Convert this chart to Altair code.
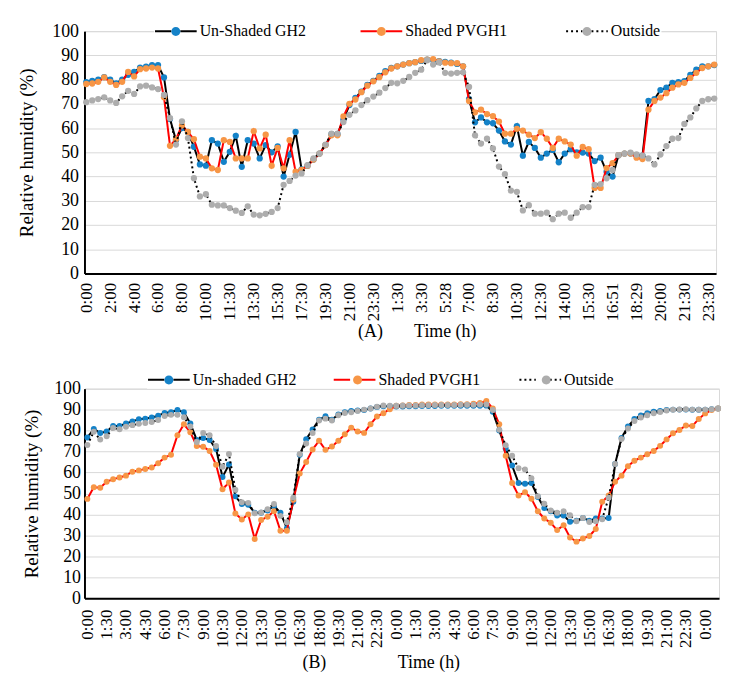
import json
import pandas as pd
import altair as alt

FONT = "Liberation Serif"
BLUE = "#1482C8"
ORANGE = "#F79646"
GRAY = "#ADADAD"

# ---------------- Panel A ----------------
A_TICKS = ["0:00", "2:00", "4:00", "6:00", "8:00", "10:00", "11:30", "13:30", "15:30",
           "17:30", "19:30", "21:00", "23:30", "1:30", "3:30", "5:28", "7:00", "8:30",
           "10:30", "12:30", "14:00", "15:30", "16:51", "18:29", "20:00", "21:30", "23:30"]
A_NAMES = ["Un-Shaded GH2", "Shaded PVGH1", "Outside"]
A_GH2 = [79, 79.5, 80, 81, 80, 78.5, 80, 82, 83.2, 85,
         85.4, 86, 86, 80.9, 63.8, 55, 60, 58.4, 52.3, 45,
         44.5, 55, 53.6, 46.1, 50.2, 56.8, 44, 55, 53.6, 47.5,
         53, 50, 52.5, 40, 49, 58.4, 43, 44.5, 47, 49.5,
         53, 57.5, 57.5, 63.5, 69.5, 72.5, 75, 77.8, 79.5, 81.5,
         83.5, 84.8, 85.5, 86.2, 86.8, 87.2, 87.7, 88.2, 88, 87.6,
         87.3, 87, 86.5, 85.5, 72, 62.4, 64.4, 62.4, 62, 59,
         54.5, 53.2, 60.8, 48.6, 54.3, 51.8, 47.8, 49.5, 51, 45.9,
         49.5, 51.3, 50, 49.9, 49.5, 46.4, 47.8, 42, 40, 48.8,
         49.5, 49.5, 48.8, 48.6, 71.2, 71.9, 75.7, 76.7, 78.7, 79,
         79.4, 82, 84.1, 85.5, 85.5, 86]
A_PVGH1 = [78.2, 78.4, 79.1, 80.9, 79.1, 77.8, 79.1, 83.2, 81.3, 84.3,
           84.6, 85, 84.6, 72.7, 52.7, 55.4, 61.1, 58.4, 55.4, 48.2,
           47.5, 43.4, 42.7, 55, 54.3, 47.5, 47.5, 47.5, 58.7, 51.6,
           57.3, 44.5, 51.8, 43.4, 55, 42, 42.7, 44.5, 47, 49.5,
           53, 57, 57, 64.8, 70, 71.8, 74.8, 77.5, 79.3, 81,
           83, 84.6, 85.5, 86.2, 86.8, 87.2, 88, 88.2, 88.5, 87.5,
           87, 86.8, 86.8, 85.5, 71.2, 66.5, 67.6, 65.8, 64.9, 62.7,
           57.7, 57.7, 59.7, 59, 57.3, 55.9, 58.3, 55.6, 51.8, 55.6,
           54.5, 53.2, 48.6, 52.2, 51.3, 35.3, 35.3, 43.5, 45.5, 48.8,
           49.5, 49.5, 47.8, 47.2, 67.6, 71.2, 72.6, 74.4, 76.7, 78,
           78.7, 80.7, 82.8, 84.8, 85.5, 86.2]
A_OUT = [70.7, 71.4, 72, 72.7, 71.4, 70.4, 73.1, 75.4, 74.1, 77.2,
         77.5, 76.8, 76.1, 73.7, 64.1, 53.2, 62.8, 55.9, 39.3, 31.8,
         32.7, 28.4, 28.1, 28.1, 27, 25.9, 25, 27.7, 24.3, 24,
         24.6, 25.4, 27, 36.6, 38.2, 40.4, 41.3, 44.7, 47.5, 49.5,
         53.2, 57.7, 57.7, 62.5, 65.5, 67.3, 69.5, 71.5, 73, 74.6,
         76.5, 78.7, 78.5, 79.5, 81.1, 82.8, 84.1, 88, 86.2, 87.1,
         82.8, 82.5, 82.8, 83, 77, 57, 53.6, 55.6, 51.6, 44.1,
         41, 34.2, 33.7, 26, 28.2, 24.7, 24.7, 25.1, 22.4, 24.7,
         25.1, 23, 25.1, 27.4, 27.4, 36.6, 36.9, 39.3, 42.7, 48.8,
         49.5, 49.9, 49.1, 48.6, 47.5, 45, 49.1, 52.6, 55.6, 55.9,
         61.7, 64.4, 68.1, 71.2, 71.9, 72.2]

# ---------------- Panel B ----------------
B_TICKS = ["0:00", "1:30", "3:00", "4:30", "6:00", "7:30", "9:00", "10:30", "12:00",
           "13:30", "15:00", "16:30", "18:00", "19:30", "21:00", "22:30",
           "0:00", "1:30", "3:00", "4:30", "6:00", "7:30", "9:00", "10:30", "12:00",
           "13:30", "15:00", "16:30", "18:00", "19:30", "21:00", "22:30", "0:00"]
B_NAMES = ["Un-shaded GH2", "Shaded PVGH1", "Outside"]
B_GH2 = [76.7, 80.8, 78.8, 79.6, 82.2, 82.2, 83.4, 84.4, 85.4, 85.7,
         86.2, 87.1, 88.4, 88.8, 89.8, 88.7, 83.4, 75.5, 76.5, 75.5,
         71.2, 57.8, 63.8, 48.6, 45, 44.6, 40.8, 40.8, 41.9, 44,
         40.8, 33.4, 46, 68.5, 75.9, 80.5, 85.2, 86.8, 85.2, 87.7,
         88.7, 89.4, 89.6, 89.8, 90.5, 91.3, 91.6, 91.6, 91.5, 91.5,
         91.6, 91.6, 91.7, 91.7, 91.7, 91.8, 91.8, 91.8, 91.8, 91.8,
         91.8, 91.8, 91.9, 89, 80, 71.5, 63.3, 55, 54.6, 55,
         48.3, 43, 41.5, 39.5, 39.5, 36.5, 37, 38.3, 37, 38,
         38, 38.3, 64, 76.5, 82, 85.5, 87.2, 88.3, 89, 89.4,
         89.8, 90, 90, 90, 89.9, 89.9, 90, 90.2, 90.5]
B_PVGH1 = [47.4, 53, 52.7, 55.6, 56.8, 57.6, 58.5, 60.4, 61, 61.7,
           62.4, 64.4, 67.1, 68.5, 77.8, 83, 79.2, 72.6, 72.3, 70.3,
           63.7, 52, 55.2, 40.4, 37.6, 40, 28.3, 37.3, 38.9, 41.5,
           32.2, 32.2, 47, 59.5, 65, 71, 75.1, 70.8, 72.4, 75.1,
           78.2, 81.4, 79.6, 78.9, 83, 86.7, 88.3, 90.2, 91.8, 92,
           92.2, 92.2, 92.4, 92.4, 92.4, 92.5, 92.5, 92.5, 92.6, 92.6,
           92.8, 93.2, 94.1, 90.5, 83, 68, 55, 49, 50.6, 47.5,
           41.5, 38, 36, 32.5, 34.8, 29, 27, 28.5, 29.7, 33,
           46, 49, 55.6, 58.5, 63, 65.6, 67.1, 68.7, 70.3, 72.7,
           75.8, 78.7, 80.3, 82.4, 82.2, 85.5, 88.2, 89.8, 90.5]
B_OUT = [73.1, 79.4, 75.7, 77.3, 81.2, 80.6, 81.8, 82.6, 83.2, 83.6,
         84.1, 85, 87, 87.5, 87.5, 86.4, 82, 74.5, 78.8, 77.8,
         72.6, 62.7, 68.8, 51.8, 45.8, 45.5, 40.5, 40.9, 42.5, 45,
         39.3, 36.2, 48, 68.8, 73.8, 78.8, 84.8, 85.7, 84.8, 87.3,
         88.4, 88.7, 89.4, 90, 90.5, 91.4, 92, 91.8, 91.8, 92,
         92, 92, 92.1, 92.1, 92.2, 92.2, 92.2, 92.2, 92.3, 92.3,
         92.3, 92.4, 92.4, 89.8, 80.4, 73, 68, 62, 61.4, 57.3,
         48.7, 45.1, 41.9, 40.8, 41.5, 39.6, 36.7, 38.3, 36.4, 36.7,
         37.7, 48, 64, 76, 81, 84.6, 86.2, 87.3, 88.3, 88.9,
         89.6, 89.9, 90.1, 90.2, 90, 89.9, 90, 90.2, 90.5]

# legend glyphs (symbolSize 324 -> one path unit = 9 px, symbol centre at 10 px):
# a 42 px line with a gap in the middle, and a 9 px marker at the gap
LINE_PATH = "M-1.111,0H0.722M1.722,0H3.556"
DOT_PATH = "M1.722,0A0.5,0.5,0,1,1,0.722,0A0.5,0.5,0,1,1,1.722,0Z"


def panel(names, series, ticks, step, width, height, xdom, legend_x, legend_y,
          col_pad, dot_pad, xtitle, xtitle_x, xlabel_pad, xtitle_pad, ylabel_pad, ytitle_pad, msize):
    rows = []
    for name, vals in zip(names, series):
        for i, v in enumerate(vals):
            rows.append({"idx": i, "rh": v, "series": name})
    df = pd.DataFrame(rows)
    label_expr = json.dumps(ticks) + "[round(datum.value / %d)]" % step
    x = alt.X("idx:Q",
              scale=alt.Scale(domain=xdom, nice=False, zero=False),
              axis=alt.Axis(values=list(range(0, step * len(ticks), step)), labelExpr=label_expr,
                            labelAngle=-90, labelPadding=xlabel_pad, grid=False, ticks=False,
                            labelFont=FONT, labelFontSize=17, labelColor="black",
                            title=xtitle, titleAlign="left", titleX=xtitle_x,
                            titleFont=FONT, titleFontWeight="normal", titleColor="black",
                            titlePadding=xtitle_pad, titleFontSize=18, labelOverlap=False,
                            domainColor="black", domainWidth=2))
    y = alt.Y("rh:Q",
              scale=alt.Scale(domain=[0, 100], nice=False),
              axis=alt.Axis(values=list(range(0, 101, 10)), title="Relative humidity (%)",
                            labelFont=FONT, labelFontSize=18, labelColor="black",
                            titleFont=FONT, titleFontWeight="normal", titleColor="black",
                            grid=True, gridColor="#D9D9D9", gridWidth=1, ticks=False,
                            labelPadding=ylabel_pad, titlePadding=ytitle_pad, titleFontSize=19,
                            domainColor="black", domainWidth=2))
    common = dict(title=None, orient="none", legendX=legend_x, legendY=legend_y,
                  direction="horizontal", symbolSize=324, symbolStrokeWidth=2,
                  labelFont=FONT, labelFontSize=16, labelColor="black", labelOffset=25,
                  labelLimit=0, padding=1, values=names, gridAlign="all")
    line_legend = alt.Legend(symbolType=LINE_PATH, fillColor="white", zindex=1,
                             columnPadding=col_pad, **common)
    dot_legend = alt.Legend(symbolType=DOT_PATH, symbolStrokeColor="transparent",
                            symbolOpacity=1, labelExpr="''", zindex=2,
                            columnPadding=dot_pad, **common)
    stroke = alt.Stroke("series:N", scale=alt.Scale(domain=names, range=["#000000", "#FF0000", "#000000"]),
                        legend=line_legend)
    dash = alt.StrokeDash("series:N", scale=alt.Scale(domain=names, range=[[1, 0], [1, 0], [2, 3]]),
                          legend=line_legend)
    # an unused extra domain entry keeps the marker legend separate from the line legend
    fill = alt.Fill("series:N", scale=alt.Scale(domain=names + ["-"], range=[BLUE, ORANGE, GRAY, "#FFFFFF"]),
                    legend=dot_legend)
    layers = []
    for name in names:
        base = alt.Chart(df).transform_filter(alt.datum.series == name)
        layers.append(base.mark_line(strokeWidth=2).encode(x=x, y=y, stroke=stroke, strokeDash=dash))
        layers.append(base.mark_circle(size=msize, opacity=1, strokeWidth=0).encode(x=x, y=y, fill=fill))
    return alt.layer(*layers).properties(width=width, height=height)


NB = "\u00a0"
chart_a = panel(A_NAMES, [A_GH2, A_PVGH1, A_OUT], A_TICKS, 4, 636, 244, [-0.3, 105.3],
                70, -11, 50, 162, "(A)" + NB * 7 + "Time (h)", 275, 9, 2, 6, 15, 40)
chart_b = panel(B_NAMES, [B_GH2, B_PVGH1, B_OUT], B_TICKS, 3, 639, 211, [-0.45, 98.15],
                63, -20, 33, 145, "(B)" + NB * 16 + "Time (h)", 219, 11, 6, 4, 12, 36)

chart = alt.concat(chart_a, chart_b, columns=1, spacing=26, align="none").resolve_scale(
    stroke="independent", strokeDash="independent", fill="independent"
).properties(
    padding={"left": 9, "top": 9, "right": 0, "bottom": 0}
).configure_view(
    stroke="#D9D9D9", strokeWidth=1
)

chart.save("out.html", embed_options={"renderer": "svg", "actions": False})
